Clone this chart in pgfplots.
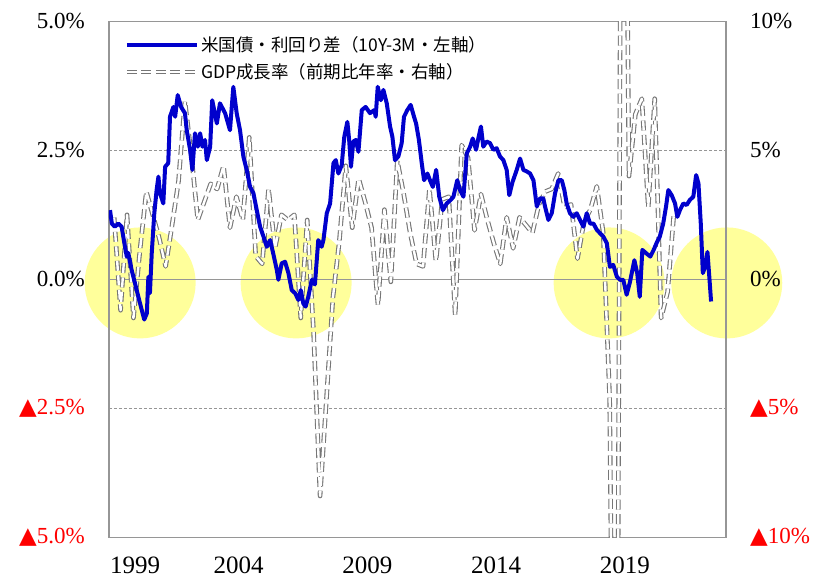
\documentclass[border=0pt]{standalone}
\usepackage{fontspec}
\setmainfont{Liberation Serif}
\newfontfamily\jp{Noto Sans CJK JP}
\newfontfamily\sym{DejaVu Sans}
\usepackage{pgfplots}
\pgfplotsset{compat=1.18}
\usepackage{pgfplotstable}

\definecolor{spread}{RGB}{0,0,204}
\definecolor{gdpgray}{RGB}{118,118,118}
\definecolor{framegray}{RGB}{150,150,150}
\definecolor{hilite}{RGB}{255,255,155}
\newcommand{\tri}[1]{\textcolor{red}{{\sym ▲}#1}}

% GDP growth, quarterly (annualised), placed on the chart's own time axis
\pgfplotstableread{
x y
1999.16 2.4
1999.41 -1.2
1999.66 2.5
1999.91 -1.5
2000.16 1.1
2000.41 3.4
2000.66 2.5
2000.91 1.6
2001.16 0.5
2001.41 2.1
2001.66 3.8
2001.91 6.9
2002.16 4.8
2002.41 2.3
2002.66 3.0
2002.91 3.7
2003.16 3.5
2003.41 4.4
2003.66 2.0
2003.91 3.2
2004.16 2.3
2004.41 5.5
2004.66 0.9
2004.91 0.6
2005.16 3.5
2005.41 1.2
2005.66 2.5
2005.91 2.3
2006.16 2.5
2006.41 -1.5
2006.66 2.3
2006.91 -2.1
2007.16 -8.4
2007.41 -4.6
2007.66 -0.7
2007.91 1.5
2008.16 4.4
2008.41 2.0
2008.66 3.9
2008.91 3.0
2009.16 2.0
2009.41 -1.0
2009.66 2.7
2009.91 -0.1
2010.16 4.6
2010.41 3.3
2010.66 1.8
2010.91 0.6
2011.16 0.5
2011.41 3.5
2011.66 0.7
2011.91 3.1
2012.16 3.2
2012.41 -1.4
2012.66 5.2
2012.91 4.7
2013.16 1.9
2013.41 3.3
2013.66 2.3
2013.91 1.4
2014.16 0.6
2014.41 2.4
2014.66 1.2
2014.91 2.4
2015.16 2.1
2015.41 1.8
2015.66 2.9
2015.91 3.4
2016.16 3.5
2016.41 4.1
2016.66 2.8
2016.91 2.9
2017.16 0.8
2017.41 2.2
2017.66 2.7
2017.91 3.6
2018.16 1.8
2018.41 -4.6
2018.66 -31.2
2018.91 33.8
2019.16 4.0
2019.41 6.4
2019.66 7.0
2019.91 2.8
2020.16 7.0
2020.41 -1.5
2020.66 -0.5
2020.91 2.6
}\gdptable

% 10Y-3M spread
\pgfplotstableread{
x y
1999.00 1.34
1999.07 1.08
1999.19 1.02
1999.32 1.08
1999.45 1.02
1999.58 0.63
1999.65 0.44
1999.71 0.51
1999.84 0.18
1999.97 -0.08
2000.10 -0.34
2000.23 -0.59
2000.33 -0.78
2000.43 -0.66
2000.49 0.05
2000.55 -0.27
2000.62 0.50
2000.72 1.28
2000.81 1.73
2000.88 1.99
2000.94 1.67
2001.07 1.47
2001.14 2.18
2001.26 2.25
2001.33 3.15
2001.46 3.34
2001.53 3.15
2001.63 3.57
2001.76 3.34
2001.91 3.22
2001.98 2.89
2002.11 2.51
2002.20 2.12
2002.30 2.83
2002.41 2.57
2002.50 2.83
2002.59 2.57
2002.69 2.70
2002.76 2.31
2002.89 2.57
2002.97 3.47
2003.15 3.02
2003.27 3.41
2003.47 3.22
2003.66 2.89
2003.79 3.73
2003.92 3.22
2004.05 2.89
2004.18 2.38
2004.31 2.12
2004.44 1.79
2004.57 1.67
2004.70 1.34
2004.83 1.02
2004.96 0.83
2005.09 0.63
2005.22 0.76
2005.34 0.50
2005.48 0.18
2005.54 -0.01
2005.67 0.31
2005.80 0.34
2005.93 0.12
2006.06 -0.21
2006.19 -0.27
2006.32 -0.40
2006.41 -0.21
2006.51 -0.47
2006.60 -0.53
2006.70 -0.34
2006.84 -0.01
2006.96 -0.10
2007.09 0.76
2007.22 0.63
2007.29 0.76
2007.42 1.28
2007.55 1.47
2007.68 2.25
2007.77 2.31
2007.87 2.05
2008.00 2.21
2008.10 2.76
2008.22 3.05
2008.29 2.70
2008.36 2.18
2008.45 2.67
2008.55 2.70
2008.65 2.47
2008.78 3.28
2008.93 3.34
2009.10 3.22
2009.27 3.28
2009.32 3.15
2009.40 3.73
2009.52 3.47
2009.62 3.67
2009.75 3.41
2009.88 2.96
2009.97 2.76
2010.07 2.31
2010.20 2.38
2010.33 2.64
2010.42 3.15
2010.55 3.28
2010.68 3.38
2010.81 3.15
2010.89 3.02
2011.00 2.70
2011.11 2.25
2011.20 1.92
2011.33 2.05
2011.43 1.92
2011.54 1.79
2011.67 2.12
2011.79 1.60
2011.93 1.34
2012.08 1.47
2012.24 1.54
2012.34 1.60
2012.49 1.92
2012.60 1.73
2012.73 1.60
2012.86 2.44
2012.99 2.57
2013.09 2.73
2013.22 2.51
2013.32 2.76
2013.41 2.96
2013.50 2.57
2013.63 2.67
2013.76 2.64
2013.89 2.51
2014.02 2.54
2014.15 2.38
2014.28 2.31
2014.41 2.12
2014.51 1.63
2014.64 1.89
2014.80 2.12
2014.93 2.34
2015.06 2.12
2015.19 2.09
2015.32 2.05
2015.45 1.92
2015.58 1.41
2015.71 1.57
2015.83 1.57
2015.90 1.41
2016.03 1.15
2016.16 1.28
2016.29 1.67
2016.42 1.92
2016.55 1.92
2016.65 1.73
2016.74 1.47
2016.87 1.28
2017.00 1.21
2017.13 1.28
2017.26 1.15
2017.39 1.02
2017.52 1.28
2017.65 1.08
2017.78 1.08
2017.91 0.96
2018.04 0.89
2018.16 0.83
2018.30 0.70
2018.42 0.24
2018.55 0.28
2018.69 0.05
2018.81 -0.01
2018.94 -0.01
2019.07 -0.30
2019.20 -0.05
2019.37 0.37
2019.48 0.12
2019.58 -0.34
2019.68 0.57
2019.84 0.50
2019.99 0.44
2020.12 0.57
2020.23 0.70
2020.36 0.83
2020.49 1.08
2020.60 1.41
2020.69 1.73
2020.82 1.63
2020.95 1.47
2021.04 1.21
2021.14 1.34
2021.27 1.47
2021.40 1.44
2021.53 1.54
2021.66 1.60
2021.77 2.02
2021.86 1.86
2021.95 1.08
2022.03 0.12
2022.12 0.24
2022.21 0.53
2022.29 -0.01
2022.35 -0.43
}\spreadtable

\pgfplotsset{
  base/.style={scale only axis, width=617pt, height=516pt,
    xmin=1998.96, xmax=2022.93, major tick length=0pt,
    yticklabel style={font=\fontsize{23}{26}\selectfont},
    xticklabel style={font=\fontsize{25}{28}\selectfont}},
  gdpline/.style={gdpgray, line width=1.1pt, double=white,
    double distance=2.4pt, dash pattern=on 10pt off 4.5pt, line join=round},
}

\begin{document}
\begin{tikzpicture}
% left axis: frame, grid, highlight circles
\begin{axis}[base, ymin=-5, ymax=5, clip=false, axis on top,
  axis line style={framegray, line width=1.3pt},
  xtick={1999,2004,2009,2014,2019},
  xticklabels={\makebox[0pt][l]{1999},2004,2009,2014,2019},
  xticklabel style={inner sep=0pt, yshift=-19pt},
  ytick={-5,-2.5,0,2.5,5},
  yticklabels={\tri{5.0\%},\tri{2.5\%},0.0\%,2.5\%,5.0\%},
  yticklabel style={inner sep=0pt, xshift=-24pt},
]
\fill[hilite] (axis cs:2000.17,-0.07) circle[radius=55.5pt];
\fill[hilite] (axis cs:2006.23,-0.07) circle[radius=55.5pt];
\fill[hilite] (axis cs:2018.39,-0.07) circle[radius=55.5pt];
\fill[hilite] (axis cs:2022.96,-0.07) circle[radius=55.5pt];
\draw[framegray, line width=1.2pt] (rel axis cs:0,0.5) -- (rel axis cs:1,0.5);
\draw[framegray, line width=0.8pt, dash pattern=on 3pt off 2pt] (rel axis cs:0,0.25) -- (rel axis cs:1,0.25);
\draw[framegray, line width=0.8pt, dash pattern=on 3pt off 2pt] (rel axis cs:0,0.75) -- (rel axis cs:1,0.75);
\coordinate (bl) at (rel axis cs:0,0);
\coordinate (tr) at (rel axis cs:1,1);
\end{axis}

% right axis: GDP growth
\begin{axis}[base, ymin=-10, ymax=10,
  axis x line=none, axis y line*=right, y axis line style={draw=none},
  ytick={-10,-5,0,5,10},
  yticklabels={\tri{10\%},\tri{5\%},0\%,5\%,10\%},
  yticklabel style={inner sep=0pt, xshift=24pt},
]
\addplot[gdpline] table[x=x, y=y] {\gdptable};
\end{axis}

% left axis data: yield spread, plus legend
\begin{axis}[base, ymin=-5, ymax=5, hide axis,
  legend style={at={(0.02,0.979)}, anchor=north west, draw=none, fill=none,
    font=\jp\fontsize{17.5}{20}\selectfont, row sep=7pt},
  legend cell align=left,
  legend image code/.code={\draw[#1] (0pt,0pt) -- (70pt,0pt);},
]
\addplot[spread, line width=4pt, line join=round] table[x=x, y=y] {\spreadtable};
\addlegendentry{米国債・利回り差（10Y-3M・左軸）}
\addlegendimage{gdpline}
\addlegendentry{GDP成長率（前期比年率・右軸）}
\end{axis}

\pgfresetboundingbox
\path[use as bounding box] ([xshift=-109pt, yshift=-40.7pt]bl) rectangle ([xshift=91pt, yshift=21.3pt]tr);
\end{tikzpicture}
\end{document}
